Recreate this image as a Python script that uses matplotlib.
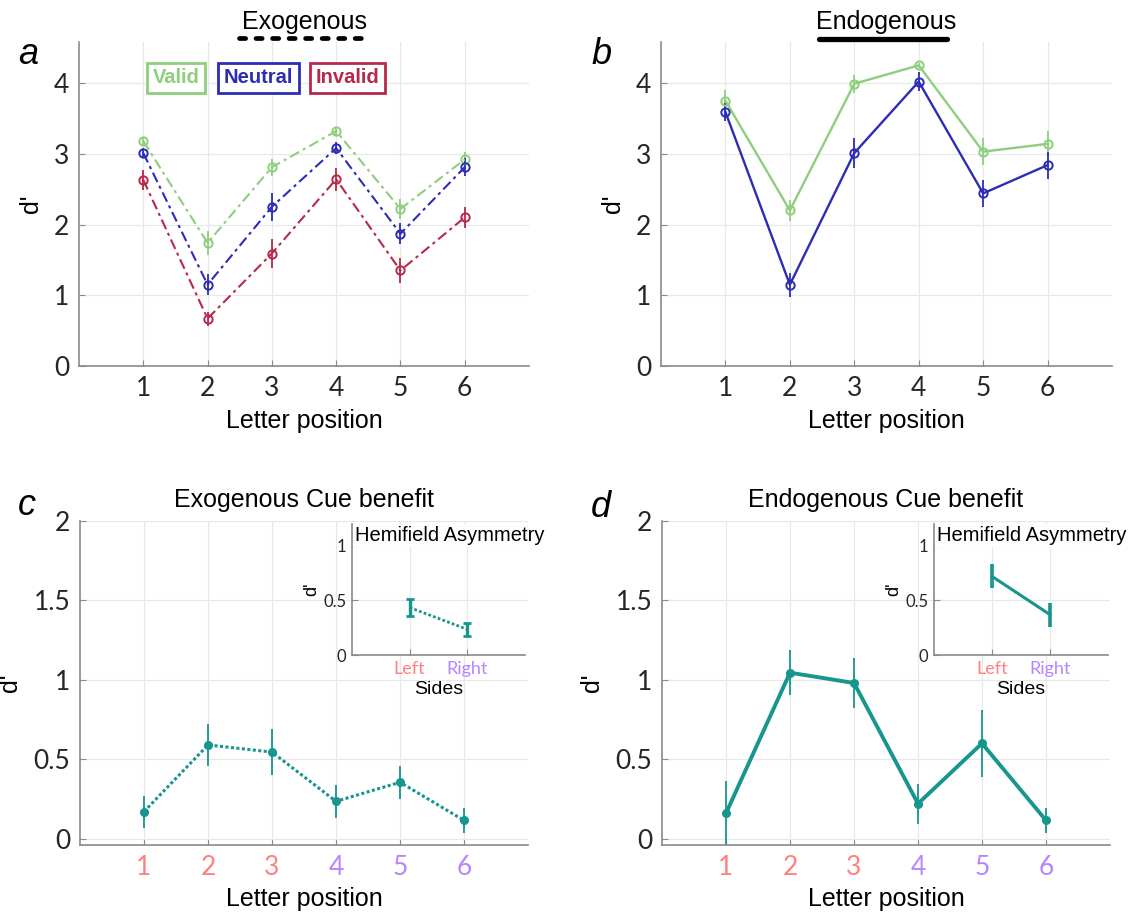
import matplotlib.pyplot as plt

# letter positions and hemifield sides
positions = [1, 2, 3, 4, 5, 6]
sides = ["Left", "Right"]

# panel a: exogenous cue, d' per condition
exo_valid = [3.18, 1.74, 2.81, 3.32, 2.22, 2.92]
exo_valid_err = [0.06, 0.17, 0.12, 0.05, 0.14, 0.10]
exo_neutral = [3.01, 1.15, 2.25, 3.08, 1.87, 2.81]
exo_neutral_err = [0.07, 0.15, 0.20, 0.09, 0.15, 0.13]
exo_invalid = [2.63, 0.67, 1.59, 2.64, 1.35, 2.10]
exo_invalid_err = [0.14, 0.10, 0.21, 0.16, 0.17, 0.15]

# panel b: endogenous cue
endo_valid = [3.75, 2.20, 3.99, 4.25, 3.03, 3.14]
endo_valid_err = [0.15, 0.15, 0.13, 0.04, 0.19, 0.18]
endo_neutral = [3.59, 1.15, 3.01, 4.02, 2.44, 2.84]
endo_neutral_err = [0.13, 0.17, 0.21, 0.13, 0.19, 0.19]

# panels c, d: cue benefit
exo_benefit = [0.17, 0.59, 0.545, 0.235, 0.355, 0.115]
exo_benefit_err = [0.10, 0.13, 0.145, 0.105, 0.105, 0.08]
endo_benefit = [0.16, 1.045, 0.98, 0.22, 0.60, 0.115]
endo_benefit_err = [0.20, 0.14, 0.16, 0.125, 0.21, 0.08]

# insets: hemifield asymmetry
exo_hemi = [0.435, 0.235]
exo_hemi_err = [0.075, 0.06]
endo_hemi = [0.72, 0.37]
endo_hemi_err = [0.11, 0.11]

# colours
green = '#8dcf7c'
blue = '#2c2cb6'
red = '#b7284b'
teal = '#17958f'
left_col = '#ff8080'
right_col = '#b784ff'

plt.rcParams['font.family'] = ['Liberation Sans', 'DejaVu Sans']
tick_font = 'Lato'

W, H = 1139, 917
fig = plt.figure(figsize=(W / 100, H / 100), dpi=100)


def px_axes(left, top, right, bottom):
    return fig.add_axes([left / W, 1 - bottom / H, (right - left) / W, (bottom - top) / H])


def style(ax, fs=19):
    for s in ['top', 'right']:
        ax.spines[s].set_visible(False)
    for s in ['left', 'bottom']:
        ax.spines[s].set_color('#8a8a8a')
        ax.spines[s].set_linewidth(1.2)
    ax.grid(True, color='#e8e8e8', lw=0.9)
    ax.set_axisbelow(True)
    ax.tick_params(direction='in', length=4, color='#8a8a8a', labelsize=fs,
                   labelcolor='#262626', pad=7)


# ---------- top row ----------
ax_a = px_axes(79, 42, 529, 366)
ax_b = px_axes(661, 42, 1112, 366)

top_series_a = [(exo_valid, exo_valid_err, green),
                (exo_neutral, exo_neutral_err, blue),
                (exo_invalid, exo_invalid_err, red)]
for vals, errs, col in top_series_a:
    ax_a.errorbar(positions, vals, yerr=errs, color=col, marker='o', mfc='none',
                  ms=6, mew=1.4, lw=1.5, ls=(0, (5, 2, 1.5, 2)), elinewidth=1.3,
                  capsize=0)

top_series_b = [(endo_valid, endo_valid_err, green),
                (endo_neutral, endo_neutral_err, blue)]
for vals, errs, col in top_series_b:
    ax_b.errorbar(positions, vals, yerr=errs, color=col, marker='o', mfc='none',
                  ms=6, mew=1.4, lw=1.7, ls='-', elinewidth=1.3, capsize=0)

for ax in (ax_a, ax_b):
    style(ax)
    ax.set_xlim(0, 7)
    ax.set_ylim(0, 4.58)
    ax.set_xticks(positions, labels=[str(p) for p in positions], fontfamily=tick_font)
    ax.set_yticks([0, 1, 2, 3, 4], labels=['0', '1', '2', '3', '4'], fontfamily=tick_font)
    ax.set_xlabel('Letter position', fontsize=18, labelpad=6)
    ax.set_ylabel("d'", fontsize=18, labelpad=8)

# legend boxes in panel a
for name, col, xc in [('Valid', green, 0.216), ('Neutral', blue, 0.399), ('Invalid', red, 0.596)]:
    ax_a.text(xc, 0.889, name, transform=ax_a.transAxes, ha='center', va='center',
              fontsize=14.5, fontweight='bold', color=col,
              bbox=dict(boxstyle='square,pad=0.28', fc='white', ec=col, lw=2))

# headers with line markers
ax_a.text(0.5, 1.062, 'Exogenous', transform=ax_a.transAxes, ha='center', va='center',
          fontsize=18)
ax_a.plot([0.356, 0.64], [1.013, 1.013], transform=ax_a.transAxes, clip_on=False,
          color='black', lw=3.4, ls=(0, (1.3, 2.2)), dash_capstyle='round')
ax_b.text(0.5, 1.062, 'Endogenous', transform=ax_b.transAxes, ha='center', va='center',
          fontsize=18)
ax_b.plot([0.35, 0.634], [1.01, 1.01], transform=ax_b.transAxes, clip_on=False,
          color='black', lw=3.8, solid_capstyle='round')

# ---------- bottom row ----------
ax_c = px_axes(80, 521, 528, 845)
ax_d = px_axes(662, 521, 1110, 845)

ax_c.errorbar(positions, exo_benefit, yerr=exo_benefit_err, color=teal, marker='o',
              ms=5.5, lw=2.2, ls=(0, (1, 0.8)), elinewidth=1.3, capsize=0)
ax_d.errorbar(positions, endo_benefit, yerr=endo_benefit_err, color=teal, marker='o',
              ms=5.5, lw=2.8, ls='-', elinewidth=1.3, capsize=0)

for ax, title in [(ax_c, 'Exogenous Cue benefit'), (ax_d, 'Endogenous Cue benefit')]:
    style(ax)
    ax.set_xlim(0, 7)
    ax.set_ylim(-0.04, 2)
    ax.set_xticks(positions, labels=[str(p) for p in positions], fontfamily=tick_font)
    for i, lab in enumerate(ax.get_xticklabels()):
        lab.set_color(left_col if i < 3 else right_col)
    ax.set_yticks([0, 0.5, 1, 1.5, 2], labels=['0', '0.5', '1', '1.5', '2'],
                  fontfamily=tick_font)
    ax.set_xlabel('Letter position', fontsize=18, labelpad=5)
    ax.set_ylabel("d'", fontsize=18, labelpad=8)
    ax.set_title(title, fontsize=18, pad=10)

# ---------- insets ----------
in_c = px_axes(352, 524, 525, 655)
in_d = px_axes(934, 524, 1108, 655)

in_c.errorbar([1, 2], exo_hemi, yerr=exo_hemi_err, color=teal, lw=2, ls=(0, (1, 0.8)),
              elinewidth=2.4, capsize=3, capthick=2)
in_d.errorbar([1, 2], endo_hemi, yerr=endo_hemi_err, color=teal, lw=2.2, ls='-',
              elinewidth=2.6, capsize=0)

for ax in (in_c, in_d):
    style(ax, fs=12)
    ax.tick_params(pad=4)
    ax.set_xlim(0, 3)
    ax.set_ylim(0, 1.2)
    ax.set_xticks([1, 2], labels=sides, fontfamily=tick_font, fontsize=13)
    ax.get_xticklabels()[0].set_color(left_col)
    ax.get_xticklabels()[1].set_color(right_col)
    ax.set_yticks([0, 0.5, 1], labels=['0', '0.5', '1'], fontfamily=tick_font)
    ax.set_xlabel('Sides', fontsize=14, labelpad=3)
    ax.set_ylabel("d'", fontsize=13, labelpad=2)
    ax.text(0.02, 0.915, 'Hemifield Asymmetry', transform=ax.transAxes, ha='left',
            va='center', fontsize=14.5,
            bbox=dict(boxstyle='square,pad=0.1', fc='white', ec='none'))

# panel letters
for letter, x, y in [('a', 0.016, 0.93), ('b', 0.519, 0.93), ('c', 0.016, 0.438), ('d', 0.519, 0.436)]:
    fig.text(x, y, letter, fontsize=26, style='italic', va='baseline')

fig.savefig('out.png', dpi=100)
